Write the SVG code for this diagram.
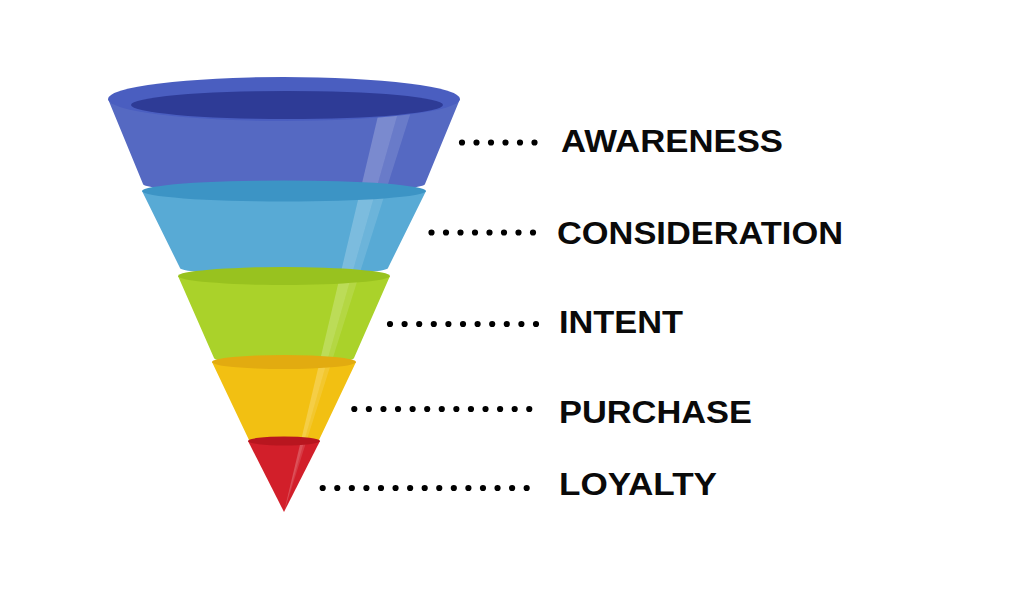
<svg xmlns="http://www.w3.org/2000/svg" width="1024" height="616" viewBox="0 0 1024 616">
<style>
.lbl{font-family:"Liberation Sans",Arial,sans-serif;font-weight:bold;font-size:31px;fill:#0a0a0a}
.dots{stroke:#000;stroke-width:6.2;stroke-linecap:round;fill:none}
.hl1{fill:#ffffff;opacity:0.22}
.hl2{fill:#ffffff;opacity:0.12}
</style>
<rect x="0" y="0" width="1024" height="616" fill="#ffffff"/>
<g id="funnel">
  <g id="bodies">
    <path id="awareness-body" d="M108,99 L143,184 A141,9 0 0 0 425,184 L460,99 Z" fill="#5569c2"/>
    <path id="consideration-body" d="M142,191 L180,268 A104,7 0 0 0 388,268 L426,191 Z" fill="#58aad5"/>
    <path id="intent-body" d="M178,276 L214,358 A70,6 0 0 0 354,358 L390,276 Z" fill="#aad22a"/>
    <path id="purchase-body" d="M212,362 L249,440 A35,4 0 0 0 319,440 L356,362 Z" fill="#f2c012"/>
    <path id="loyalty-body" d="M248,441 L284,512 L320,441 Z" fill="#d21f2a"/>
  </g>
  <g id="highlight">
    <path class="hl1" d="M284,512 L382,99 L402,99 Z"/>
    <path class="hl2" d="M284,512 L402,99 L415,99 Z"/>
  </g>
  <g id="rims">
    <ellipse id="awareness-rim" cx="284" cy="99" rx="176" ry="22" fill="#4a5ec0"/>
    <ellipse id="awareness-inner" cx="287" cy="105" rx="156" ry="14" fill="#2e3b96"/>
    <ellipse id="consideration-rim" cx="284" cy="191" rx="142" ry="10.5" fill="#3c94c5"/>
    <ellipse id="intent-rim" cx="284" cy="276" rx="106" ry="9" fill="#98c21f"/>
    <ellipse id="purchase-rim" cx="284" cy="362" rx="72" ry="7" fill="#e2ab10"/>
    <ellipse id="loyalty-rim" cx="284" cy="441" rx="36" ry="4.5" fill="#b8161f"/>
  </g>
</g>
<g id="connectors">
  <line class="dots" x1="462" y1="142.5" x2="535" y2="142.5" stroke-dasharray="0 14.5"/>
  <line class="dots" x1="431.5" y1="232.5" x2="534" y2="232.5" stroke-dasharray="0 14.5"/>
  <line class="dots" x1="390" y1="324" x2="537" y2="324" stroke-dasharray="0 14.6"/>
  <line class="dots" x1="354.3" y1="409" x2="530" y2="409" stroke-dasharray="0 14.58"/>
  <line class="dots" x1="322.7" y1="488" x2="527.5" y2="488" stroke-dasharray="0 14.57"/>
</g>
<g id="label-awareness"><text class="lbl" x="561" y="152" textLength="222" lengthAdjust="spacingAndGlyphs">AWARENESS</text></g>
<g id="label-consideration"><text class="lbl" x="557" y="244" textLength="286" lengthAdjust="spacingAndGlyphs">CONSIDERATION</text></g>
<g id="label-intent"><text class="lbl" x="559" y="333" textLength="124" lengthAdjust="spacingAndGlyphs">INTENT</text></g>
<g id="label-purchase"><text class="lbl" x="559" y="423" textLength="193" lengthAdjust="spacingAndGlyphs">PURCHASE</text></g>
<g id="label-loyalty"><text class="lbl" x="559" y="495" textLength="158" lengthAdjust="spacingAndGlyphs">LOYALTY</text></g>
</svg>
